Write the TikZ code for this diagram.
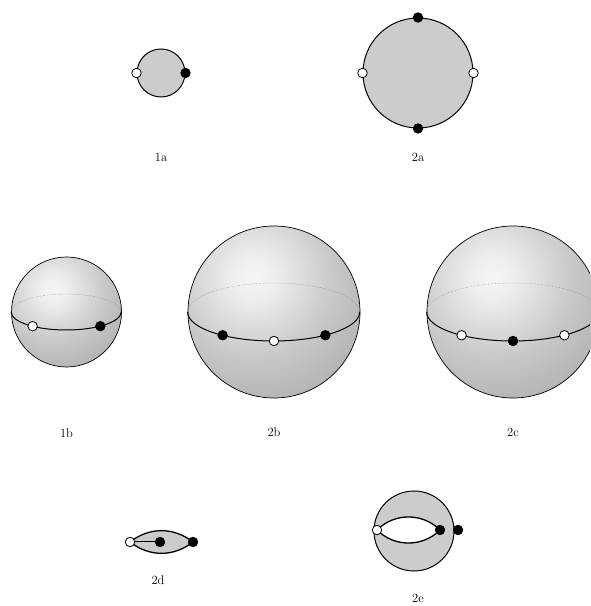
\documentclass[tikz,border=0pt]{standalone}
\usetikzlibrary{positioning,calc}
\pgfdeclarelayer{background}
\pgfsetlayers{background,main}
\pgfdeclareradialshading{globeshade}{\pgfpoint{0bp}{0bp}}{color(0bp)=(gray!8); color(4bp)=(gray!13); color(15.5bp)=(gray!43); color(21.6bp)=(gray!54); color(43bp)=(gray!85); color(47.3bp)=(gray!95); color(50bp)=(gray!100)}
\newcommand{\shadeglobe}[2]{%
    \begin{scope}
        \clip (#1.center) circle [radius=#2];
        \shade [shading=globeshade] ($(#1.center)+(-0.24*#2,0.40*#2)$) circle [radius=1.5*#2];
    \end{scope}}

\begin{document}
\begin{tikzpicture}[x=1pt, y=1pt]
        \tikzset{
            opendot/.style={draw, fill=white, circle, inner sep=0pt, minimum size=9.5pt, line width=0.8pt},
            fulldot/.style={opendot, fill=black},
            disk/.style={draw, fill=gray!40, line width=1pt},
            sphere/.style={draw, circle, line width=0.7pt},
            front/.style={line width=1pt},
            back/.style={gray, line width=0.4pt, densely dotted},
            tag/.style={font=\fontsize{12.5}{15}\selectfont}
        }
        \useasboundingbox (0,0) rectangle (590,606);
        \clip (0,0) rectangle (590,606);

        % Flat disks
        \node [disk, circle, minimum size=48pt] (d1a) at (161,533) {};
        \node [opendot] (o1a) at (d1a.west) {};
        \node [fulldot] (f1a) at (d1a.east) {};
        \node [tag] (t1a) at (d1a.center |- 0,449) {1a};

        \node [disk, circle, minimum size=110pt] (d2a) at (418,533) {};
        \node [fulldot] (n2a) at (d2a.north) {};
        \node [fulldot] (s2a) at (d2a.south) {};
        \node [opendot] (w2a) at (d2a.west) {};
        \node [opendot] (e2a) at (d2a.east) {};
        \node [tag] (t2a) at (d2a.center |- 0,449) {2a};

        % Spheres
        \node [sphere, minimum size=110pt] (s1b) at (66.5,294) {};
        \draw [back] (s1b.west) arc [start angle=180, end angle=0, x radius=55, y radius=18];
        \draw [front] (s1b.west) arc [start angle=180, end angle=360, x radius=55, y radius=18];
        \node [opendot] (o1b) at ($(s1b.center)+(232:55 and 18)$) {};
        \node [fulldot] (f1b) at ($(s1b.center)+(308:55 and 18)$) {};
        \node [tag] (t1b) at (s1b.center |- 0,173) {1b};

        \node [sphere, minimum size=172pt] (s2b) at (274,294) {};
        \draw [back] (s2b.west) arc [start angle=180, end angle=0, x radius=86, y radius=29];
        \draw [front] (s2b.west) arc [start angle=180, end angle=360, x radius=86, y radius=29];
        \node [fulldot] (a2b) at ($(s2b.center)+(233.3:86 and 29)$) {};
        \node [opendot] (b2b) at ($(s2b.center)+(270:86 and 29)$) {};
        \node [fulldot] (c2b) at ($(s2b.center)+(306.7:86 and 29)$) {};
        \node [tag] (t2b) at (s2b.center |- 0,174) {2b};

        \node [sphere, minimum size=172pt] (s2c) at (513,294) {};
        \draw [back] (s2c.west) arc [start angle=180, end angle=0, x radius=86, y radius=29];
        \draw [front] (s2c.west) arc [start angle=180, end angle=360, x radius=86, y radius=29];
        \node [opendot] (a2c) at ($(s2c.center)+(233.3:86 and 29)$) {};
        \node [fulldot] (b2c) at ($(s2c.center)+(270:86 and 29)$) {};
        \node [opendot] (c2c) at ($(s2c.center)+(306.7:86 and 29)$) {};
        \node [tag] (t2c) at (s2c.center |- 0,174) {2c};

        \begin{pgfonlayer}{background}
            \shadeglobe{s1b}{55}
            \shadeglobe{s2b}{86}
            \shadeglobe{s2c}{86}
        \end{pgfonlayer}

        % Lens 2d
        \node [opendot] (o2d) at (130,64) {};
        \node [fulldot] (m2d) at (160,64) {};
        \node [fulldot] (f2d) at (193,64) {};
        \node [tag] (t2d) at (158,26) {2d};
        \begin{pgfonlayer}{background}
            \draw [disk, line width=1.3pt] (o2d.center) to [bend left=38] (f2d.center) to [bend left=38] (o2d.center) -- cycle;
            \draw [front] (o2d) -- (m2d);
        \end{pgfonlayer}

        % Disk with hole 2e
        \node [opendot] (o2e) at (377,76) {};
        \node [fulldot] (f2e) at (440,76) {};
        \node [fulldot] (g2e) at (458,76) {};
        \node [tag] (t2e) at (418,8) {2e};
        \begin{pgfonlayer}{background}
            \node [disk, circle, minimum size=80pt] (d2e) at (414,75) {};
            \draw [front, line width=1.3pt, fill=white] (o2e.center) to [bend left=45] (f2e.center) to [bend left=45] (o2e.center) -- cycle;
        \end{pgfonlayer}
\end{tikzpicture}
\end{document}
